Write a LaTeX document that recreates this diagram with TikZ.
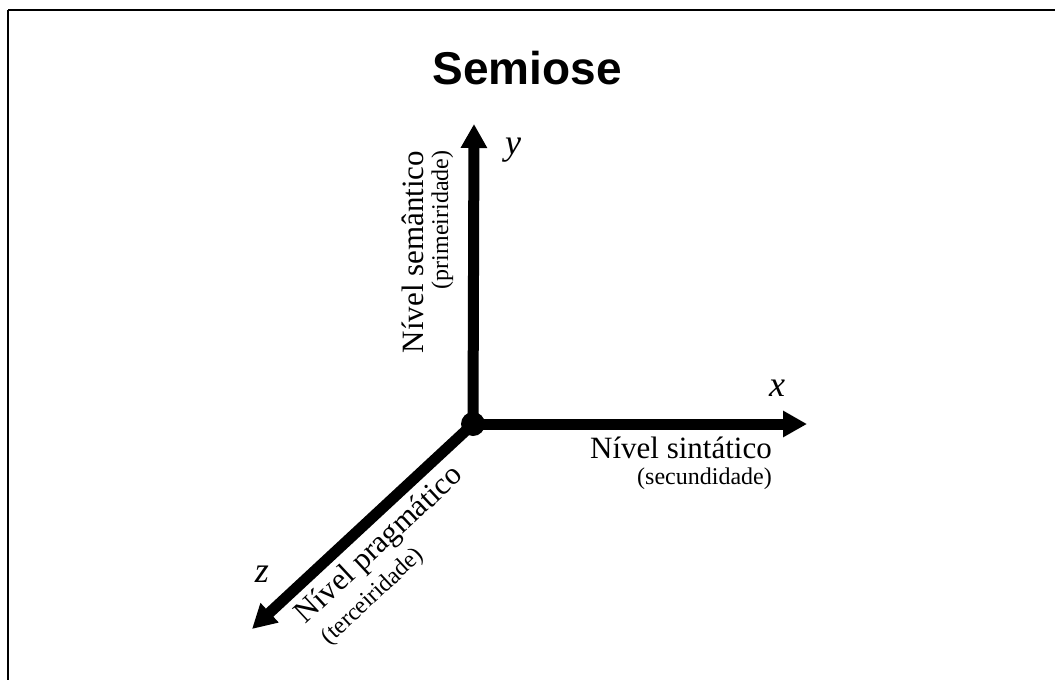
\documentclass[tikz,border=0pt]{standalone}
\usepackage{fontspec}
\setmainfont{Liberation Serif}
\newfontfamily\titlefont{Liberation Sans}
\usetikzlibrary{arrows.meta}
\begin{document}
\begin{tikzpicture}[x=1pt,y=-1pt,
  axis/.style={line width=11pt,-{Triangle[width=25pt,length=24pt]}},
  big/.style={inner sep=0pt,font=\fontsize{31}{36}\selectfont},
  small/.style={inner sep=0pt,font=\fontsize{24}{28}\selectfont},
  axlab/.style={inner sep=0pt,font=\fontsize{36}{40}\selectfont\itshape},
  frame/.style={line width=1.5pt}]
\useasboundingbox (0,0) rectangle (1055,680);
\draw[frame] (8,10) -- (1055,10);
\draw[frame] (8,10) -- (8,680);
\node[inner sep=0pt,anchor=base,font=\titlefont\bfseries\fontsize{46}{50}\selectfont] (title) at (527,84) {Semiose};
\node[circle,fill=black,minimum size=24pt,inner sep=0pt] (o) at (473,424) {};
\coordinate (yt) at (474,124);
\coordinate (xt) at (807,424);
\coordinate (zt) at (252,629);
\draw[axis] (o.center) -- (yt);
\draw[axis] (o.center) -- (xt);
\draw[axis] (o.center) -- (zt);
\node[axlab] (ylab) at (513,150) {y};
\node[axlab] (xlab) at (777,388) {x};
\node[axlab] (zlab) at (262,574) {z};
\node[big,anchor=base east] (xname) at (772,458) {Nível sintático};
\node[small,anchor=base east] (xsub) at (772,484) {(secundidade)};
\node[big,anchor=base,rotate=90] (yname) at (423,252) {Nível semântico};
\node[small,anchor=base,rotate=90] (ysub) at (448,220) {(primeiridade)};
\node[big,anchor=base,rotate=43] (zname) at (385,551) {Nível pragmático};
\node[small,anchor=base,rotate=43] (zsub) at (377,601) {(terceiridade)};
\end{tikzpicture}
\end{document}
